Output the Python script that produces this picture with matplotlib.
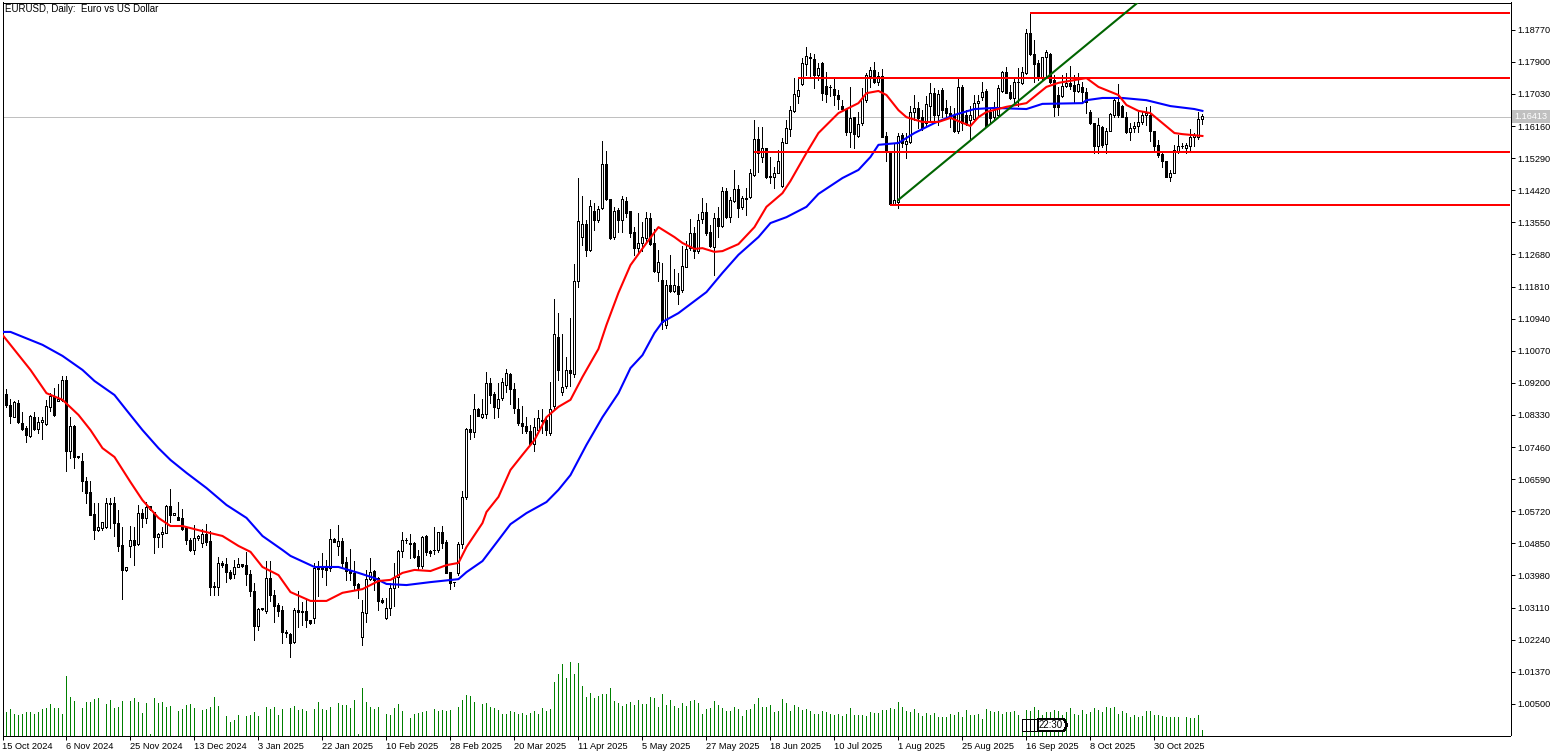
import numpy as np
import matplotlib
matplotlib.use("Agg")
import matplotlib.pyplot as plt
from matplotlib.patches import Rectangle, Polygon

plt.rcParams["font.family"] = ["Liberation Sans", "DejaVu Sans"]

# daily candles, B = down day, W = up day
candle_dir = (
    "BBBWBBBWBW" "WWWBWWBWBB" "BBBBWWWWBB" "BWWBWBWBBW" "WWBWBBBBWW" "WBBBWBBBWW"
    "BBBBWBWBBB" "BBBWBBBBWB" "BBWBWBBBBB" "WWWBBBWWWW" "WWWBBWBBWW" "BBBWWWWBWB"
    "WWBBWWWBBB" "BBBWWWBWWB" "WWBWWWBWBW" "WBBWBWBBBW" "WWBBWBWBWB" "WWWBWWBBWB"
    "WBWWBWWWWB" "WBBWWWWWWW" "WWBBWBBWBB" "BBWBWWWWBW" "BBBWWBWWWB" "BWWBWBBBBW"
    "BBWWWWBBWW" "WBBWWWWBBB" "WWBBBWWBBW" "BBBBWBWWWB" "BBWWWWWBBB" "BBWWWWWWWW" "W"
)

highs = [
    1.0905,1.0903,1.0875,1.0872,1.0874,1.0841,1.0803,1.0833,1.0841,1.0828,
    1.0828,1.0874,1.0892,1.0905,1.0917,1.0938,1.0938,1.0827,1.0806,1.0722,
    1.0729,1.0664,1.0655,1.0594,1.0594,1.0544,1.0607,1.0607,1.0610,1.0576,
    1.0530,1.0422,1.0532,1.0530,1.0589,1.0577,1.0596,1.0587,1.0571,1.0512,
    1.0529,1.0590,1.0632,1.0568,1.0596,1.0577,1.0531,1.0499,1.0535,1.0508,
    1.0523,1.0538,1.0519,1.0380,1.0449,1.0436,1.0445,1.0413,1.0440,1.0445,
    1.0428,1.0461,1.0413,1.0377,1.0309,1.0311,1.0438,1.0436,1.0359,1.0323,
    1.0314,1.0250,1.0241,1.0309,1.0356,1.0327,1.0332,1.0277,1.0431,1.0438,
    1.0458,1.0440,1.0524,1.0499,1.0535,1.0499,1.0449,1.0469,1.0438,1.0377,
    1.0332,1.0413,1.0445,1.0413,1.0395,1.0336,1.0336,1.0377,1.0431,1.0467,
    1.0515,1.0499,1.0510,1.0490,1.0467,1.0505,1.0507,1.0467,1.0529,1.0517,
    1.0532,1.0494,1.0408,1.0381,1.0490,1.0627,1.0797,1.0833,1.0890,1.0851,
    1.0875,1.0949,1.0932,1.0896,1.0919,1.0932,1.0958,1.0946,1.0919,1.0878,
    1.0858,1.0828,1.0806,1.0824,1.0846,1.0848,1.0824,1.0923,1.1147,1.1109,
    1.1052,1.0991,1.1095,1.1242,1.1474,1.1426,1.1361,1.1416,1.1407,1.1399,
    1.1575,1.1548,1.1418,1.1396,1.1393,1.1426,1.1423,1.1386,1.1343,1.1381,
    1.1357,1.1382,1.1379,1.1336,1.1280,1.1244,1.1199,1.1267,1.1229,1.1219,
    1.1291,1.1305,1.1363,1.1343,1.1377,1.1420,1.1407,1.1348,1.1379,1.1396,
    1.1452,1.1447,1.1423,1.1497,1.1456,1.1425,1.1447,1.1500,1.1632,1.1614,
    1.1614,1.1557,1.1533,1.1506,1.1551,1.1583,1.1631,1.1669,1.1745,1.1745,
    1.1799,1.1829,1.1813,1.1810,1.1786,1.1790,1.1763,1.1727,1.1750,1.1714,
    1.1687,1.1664,1.1721,1.1641,1.1655,1.1718,1.1759,1.1777,1.1789,1.1763,
    1.1770,1.1601,1.1547,1.1569,1.1598,1.1596,1.1596,1.1669,1.1700,1.1682,
    1.1660,1.1696,1.1732,1.1718,1.1714,1.1718,1.1687,1.1670,1.1664,1.1743,
    1.1727,1.1660,1.1669,1.1700,1.1700,1.1736,1.1715,1.1664,1.1682,1.1727,
    1.1766,1.1777,1.1727,1.1743,1.1772,1.1777,1.1878,1.1923,1.1849,1.1795,
    1.1804,1.1822,1.1815,1.1754,1.1723,1.1754,1.1759,1.1779,1.1754,1.1761,
    1.1736,1.1718,1.1660,1.1625,1.1637,1.1616,1.1610,1.1650,1.1691,1.1730,
    1.1673,1.1655,1.1623,1.1628,1.1655,1.1655,1.1667,1.1669,1.1603,1.1577,
    1.1544,1.1522,1.1497,1.1565,1.1592,1.1569,1.1569,1.1607,1.1598,1.1655,
    1.1649,
]

body_top = [
    1.0905,1.0890,1.0860,1.0867,1.0865,1.0810,1.0797,1.0830,1.0827,1.0813,
    1.0819,1.0857,1.0883,1.0883,1.0875,1.0928,1.0928,1.0803,1.0803,1.0722,
    1.0707,1.0655,1.0623,1.0565,1.0529,1.0542,1.0594,1.0594,1.0594,1.0540,
    1.0480,1.0420,1.0493,1.0493,1.0567,1.0567,1.0583,1.0585,1.0571,1.0510,
    1.0515,1.0586,1.0586,1.0568,1.0557,1.0553,1.0529,1.0494,1.0499,1.0506,
    1.0511,1.0511,1.0491,1.0370,1.0431,1.0431,1.0428,1.0407,1.0420,1.0428,
    1.0428,1.0427,1.0401,1.0355,1.0306,1.0310,1.0390,1.0390,1.0345,1.0318,
    1.0305,1.0246,1.0239,1.0305,1.0305,1.0302,1.0302,1.0277,1.0418,1.0420,
    1.0420,1.0420,1.0496,1.0496,1.0492,1.0492,1.0435,1.0413,1.0406,1.0375,
    1.0298,1.0388,1.0407,1.0409,1.0390,1.0332,1.0309,1.0363,1.0395,1.0463,
    1.0494,1.0494,1.0485,1.0487,1.0451,1.0503,1.0505,1.0463,1.0467,1.0517,
    1.0517,1.0488,1.0407,1.0380,1.0483,1.0610,1.0794,1.0795,1.0848,1.0848,
    1.0835,1.0919,1.0919,1.0890,1.0875,1.0923,1.0946,1.0944,1.0902,1.0848,
    1.0810,1.0803,1.0790,1.0801,1.0824,1.0818,1.0818,1.0848,1.1052,1.1043,
    1.0910,1.0955,1.0955,1.1197,1.1359,1.1350,1.1350,1.1399,1.1387,1.1391,
    1.1513,1.1513,1.1418,1.1386,1.1388,1.1417,1.1413,1.1386,1.1329,1.1298,
    1.1314,1.1368,1.1368,1.1298,1.1247,1.1199,1.1185,1.1185,1.1185,1.1183,
    1.1237,1.1283,1.1325,1.1325,1.1361,1.1382,1.1382,1.1328,1.1366,1.1366,
    1.1440,1.1440,1.1416,1.1444,1.1444,1.1420,1.1420,1.1488,1.1580,1.1580,
    1.1557,1.1557,1.1481,1.1490,1.1522,1.1574,1.1610,1.1660,1.1702,1.1714,
    1.1786,1.1806,1.1804,1.1797,1.1772,1.1786,1.1725,1.1723,1.1715,1.1700,
    1.1669,1.1661,1.1637,1.1640,1.1622,1.1691,1.1754,1.1768,1.1768,1.1752,
    1.1752,1.1589,1.1547,1.1416,1.1589,1.1592,1.1575,1.1655,1.1664,1.1664,
    1.1641,1.1675,1.1705,1.1705,1.1702,1.1714,1.1664,1.1650,1.1646,1.1721,
    1.1723,1.1646,1.1646,1.1679,1.1684,1.1709,1.1711,1.1655,1.1660,1.1718,
    1.1763,1.1763,1.1709,1.1734,1.1736,1.1762,1.1867,1.1867,1.1811,1.1788,
    1.1802,1.1816,1.1811,1.1741,1.1700,1.1725,1.1732,1.1732,1.1727,1.1729,
    1.1721,1.1709,1.1655,1.1623,1.1619,1.1614,1.1603,1.1649,1.1687,1.1682,
    1.1669,1.1641,1.1610,1.1616,1.1628,1.1646,1.1652,1.1646,1.1603,1.1565,
    1.1539,1.1520,1.1488,1.1551,1.1563,1.1563,1.1565,1.1585,1.1592,1.1634,
    1.1644,
]

body_bottom = [
    1.0890,1.0860,1.0830,1.0828,1.0815,1.0795,1.0779,1.0777,1.0795,1.0794,
    1.0813,1.0808,1.0854,1.0833,1.0872,1.0874,1.0736,1.0734,1.0718,1.0718,
    1.0655,1.0622,1.0562,1.0520,1.0521,1.0526,1.0529,1.0593,1.0540,1.0479,
    1.0413,1.0413,1.0479,1.0481,1.0483,1.0555,1.0555,1.0578,1.0501,1.0501,
    1.0510,1.0514,1.0563,1.0563,1.0549,1.0523,1.0493,1.0467,1.0467,1.0499,
    1.0485,1.0490,1.0366,1.0366,1.0368,1.0426,1.0407,1.0391,1.0401,1.0422,
    1.0423,1.0401,1.0357,1.0262,1.0262,1.0306,1.0303,1.0345,1.0316,1.0303,
    1.0246,1.0243,1.0216,1.0219,1.0298,1.0298,1.0276,1.0269,1.0282,1.0416,
    1.0415,1.0413,1.0418,1.0490,1.0479,1.0433,1.0410,1.0406,1.0372,1.0361,
    1.0232,1.0296,1.0388,1.0386,1.0330,1.0326,1.0284,1.0309,1.0363,1.0395,
    1.0463,1.0493,1.0484,1.0449,1.0424,1.0424,1.0461,1.0458,1.0466,1.0467,
    1.0487,1.0406,1.0377,1.0379,1.0404,1.0483,1.0610,1.0788,1.0788,1.0831,
    1.0828,1.0835,1.0887,1.0854,1.0851,1.0880,1.0914,1.0902,1.0851,1.0810,
    1.0803,1.0790,1.0754,1.0753,1.0792,1.0816,1.0792,1.0785,1.0856,1.0955,
    1.0894,1.0912,1.0946,1.0944,1.1197,1.1314,1.1280,1.1280,1.1361,1.1361,
    1.1395,1.1418,1.1312,1.1314,1.1360,1.1360,1.1381,1.1327,1.1286,1.1286,
    1.1298,1.1312,1.1296,1.1224,1.1221,1.1084,1.1076,1.1170,1.1169,1.1161,
    1.1172,1.1235,1.1285,1.1278,1.1276,1.1364,1.1325,1.1291,1.1289,1.1345,
    1.1345,1.1369,1.1369,1.1413,1.1393,1.1396,1.1419,1.1423,1.1483,1.1544,
    1.1531,1.1479,1.1477,1.1477,1.1490,1.1454,1.1571,1.1607,1.1657,1.1696,
    1.1729,1.1783,1.1800,1.1754,1.1754,1.1706,1.1703,1.1722,1.1700,1.1688,
    1.1661,1.1599,1.1599,1.1594,1.1589,1.1623,1.1687,1.1752,1.1736,1.1736,
    1.1587,1.1547,1.1404,1.1404,1.1411,1.1569,1.1567,1.1574,1.1655,1.1637,
    1.1610,1.1623,1.1670,1.1646,1.1646,1.1660,1.1650,1.1641,1.1603,1.1603,
    1.1623,1.1623,1.1632,1.1634,1.1678,1.1694,1.1616,1.1637,1.1640,1.1646,
    1.1712,1.1706,1.1691,1.1691,1.1735,1.1732,1.1759,1.1811,1.1784,1.1745,
    1.1745,1.1802,1.1736,1.1667,1.1667,1.1696,1.1725,1.1725,1.1712,1.1712,
    1.1709,1.1682,1.1625,1.1563,1.1563,1.1565,1.1567,1.1603,1.1646,1.1646,
    1.1641,1.1599,1.1599,1.1610,1.1616,1.1628,1.1646,1.1603,1.1563,1.1538,
    1.1520,1.1479,1.1479,1.1490,1.1549,1.1562,1.1556,1.1563,1.1585,1.1585,
    1.1634,
]

lows = [
    1.0887,1.0854,1.0812,1.0827,1.0812,1.0792,1.0761,1.0772,1.0792,1.0783,
    1.0769,1.0806,1.0845,1.0831,1.0872,1.0872,1.0682,1.0716,1.0688,1.0717,
    1.0628,1.0595,1.0561,1.0498,1.0518,1.0521,1.0526,1.0526,1.0506,1.0463,
    1.0335,1.0411,1.0449,1.0425,1.0481,1.0528,1.0540,1.0576,1.0460,1.0476,
    1.0474,1.0512,1.0544,1.0562,1.0547,1.0521,1.0484,1.0465,1.0455,1.0494,
    1.0476,1.0481,1.0344,1.0344,1.0344,1.0422,1.0381,1.0388,1.0391,1.0420,
    1.0422,1.0372,1.0341,1.0223,1.0250,1.0305,1.0296,1.0330,1.0273,1.0287,
    1.0214,1.0232,1.0178,1.0214,1.0259,1.0264,1.0259,1.0267,1.0269,1.0343,
    1.0395,1.0372,1.0411,1.0488,1.0454,1.0422,1.0386,1.0386,1.0359,1.0336,
    1.0210,1.0273,1.0386,1.0359,1.0305,1.0323,1.0279,1.0291,1.0314,1.0366,
    1.0449,1.0487,1.0445,1.0445,1.0413,1.0418,1.0454,1.0451,1.0456,1.0461,
    1.0472,1.0404,1.0361,1.0370,1.0399,1.0472,1.0605,1.0767,1.0774,1.0830,
    1.0824,1.0824,1.0865,1.0824,1.0828,1.0874,1.0896,1.0862,1.0837,1.0806,
    1.0783,1.0783,1.0752,1.0734,1.0783,1.0783,1.0779,1.0779,1.0847,1.0928,
    1.0887,1.0907,1.0912,1.0937,1.1181,1.1294,1.1264,1.1277,1.1334,1.1357,
    1.1391,1.1416,1.1309,1.1309,1.1330,1.1330,1.1370,1.1316,1.1267,1.1271,
    1.1276,1.1303,1.1294,1.1221,1.1197,1.1065,1.1068,1.1167,1.1167,1.1133,
    1.1167,1.1233,1.1280,1.1258,1.1273,1.1352,1.1321,1.1289,1.1211,1.1316,
    1.1343,1.1366,1.1357,1.1411,1.1370,1.1390,1.1375,1.1420,1.1481,1.1492,
    1.1519,1.1474,1.1461,1.1447,1.1488,1.1452,1.1569,1.1589,1.1655,1.1678,
    1.1727,1.1754,1.1750,1.1718,1.1741,1.1687,1.1682,1.1696,1.1673,1.1661,
    1.1660,1.1592,1.1560,1.1557,1.1587,1.1619,1.1682,1.1723,1.1732,1.1727,
    1.1586,1.1520,1.1402,1.1402,1.1393,1.1560,1.1529,1.1569,1.1632,1.1610,
    1.1605,1.1614,1.1628,1.1623,1.1619,1.1641,1.1641,1.1614,1.1601,1.1596,
    1.1604,1.1619,1.1581,1.1631,1.1646,1.1687,1.1613,1.1623,1.1634,1.1644,
    1.1709,1.1705,1.1688,1.1682,1.1669,1.1731,1.1757,1.1809,1.1736,1.1741,
    1.1743,1.1745,1.1732,1.1644,1.1646,1.1695,1.1723,1.1715,1.1682,1.1709,
    1.1678,1.1650,1.1622,1.1542,1.1542,1.1560,1.1542,1.1603,1.1641,1.1641,
    1.1640,1.1596,1.1577,1.1601,1.1601,1.1622,1.1619,1.1575,1.1551,1.1533,
    1.1506,1.1477,1.1468,1.1488,1.1544,1.1556,1.1542,1.1549,1.1562,1.1580,
    1.1622,
]

# tick volume in thousands
volumes = [
    0,47,53,43,41,43,47,47,43,47, 53,55,63,55,55,43,119,77,69,0,
    55,67,67,73,75,0,63,71,55,57, 69,0,69,75,67,45,65,3,75,65,
    67,57,59,0,49,53,61,63,55,0, 51,53,57,77,59,0,39,27,31,41,
    0,39,41,47,39,0,57,53,57,41, 53,0,55,59,51,53,49,0,53,67,
    53,51,57,0,65,61,61,55,71,3, 95,67,57,53,57,0,43,41,55,63,
    49,0,35,43,45,47,49,0,53,49, 51,49,51,0,57,71,81,79,67,0,
    63,65,57,55,51,43,43,49,47,43, 45,41,45,49,43,55,49,53,107,123,
    143,115,147,123,145,99,77,85,75,79, 83,83,95,69,65,59,63,67,61,71,
    63,63,77,75,57,83,61,71,59,55, 65,59,69,71,65,43,53,55,69,61,
    55,49,49,57,53,39,51,53,63,75, 57,57,61,47,49,73,65,49,61,57,
    51,53,49,43,43,49,47,43,41,43, 39,43,55,41,41,41,39,47,45,45,
    51,51,55,53,67,57,49,47,53,45, 39,45,41,45,37,37,37,43,41,47,
    37,51,41,41,43,33,53,49,47,49, 43,47,47,49,41,33,51,49,57,51,
    41,47,47,51,49,41,47,55,43,41, 51,43,47,55,51,47,57,55,57,43,
    49,45,37,41,37,39,49,49,41,41, 39,37,37,37,37,0,37,35,35,41,
    11,
]

red_bars = [0,7,11,15,19,22,25,28,32,35,39,42,45,50,55,59,62,65,69,72,77,81,85,90,94,97,100,103,107,
            111,114,116,120,121,124,127,130,133,136,139,142,145,149,151,154,157,161,164,168,170,173,
            175,178,180,184,188,191,195,197,201,204,209,214,216,219,221,224,226,230,234,237,242,244,
            246,251,256,261,264,271,274,279,281,284,287,290,293,295,300]
red_ma = [1.1050,1.0955,1.0892,1.0874,1.0833,1.0792,1.0743,1.0719,1.0651,1.0602,1.0554,1.0532,1.0532,
          1.0518,1.0505,1.0478,1.0462,1.0421,1.0399,1.0353,1.0329,1.0329,1.0351,1.0361,1.0383,1.0386,
          1.0405,1.0413,1.0410,1.0426,1.0432,1.0475,1.0540,1.0570,1.0611,1.0684,1.0725,1.0765,1.0827,
          1.0855,1.0874,1.0936,1.1012,1.1077,1.1164,1.1239,1.1299,1.1342,1.1315,1.1299,1.1283,1.1285,
          1.1275,1.1277,1.1296,1.1342,1.1397,1.1434,1.1467,1.1543,1.1597,1.1651,1.1678,1.1705,1.1711,
          1.1700,1.1659,1.1640,1.1627,1.1627,1.1638,1.1616,1.1640,1.1654,1.1668,1.1678,1.1722,1.1733,
          1.1746,1.1722,1.1700,1.1673,1.1657,1.1651,1.1624,1.1597,1.1594,1.1589]

blue_bars = [0,2,10,15,20,23,28,31,35,39,42,46,51,56,61,65,70,72,78,84,89,93,96,101,107,114,116,120,
             124,127,131,136,139,142,144,146,150,154,157,160,163,165,169,176,180,184,189,192,196,201,204,210,214,
             217,219,224,228,233,238,243,248,256,260,270,271,275,280,286,292,298,300]
blue_ma = [1.1058,1.1058,1.1023,1.0993,1.0955,1.0925,1.0887,1.0846,1.0792,1.0743,1.0711,1.0676,1.0635,
           1.0589,1.0554,1.0505,1.0467,1.0451,1.0421,1.0421,1.0405,1.0391,1.0375,1.0372,1.0380,1.0388,
           1.0407,1.0437,1.0494,1.0537,1.0567,1.0597,1.0630,1.0670,1.0711,1.0752,1.0827,1.0892,1.0960,
           1.0995,1.1055,1.1085,
           1.1109,1.1166,1.1218,1.1267,1.1315,1.1353,1.1369,1.1397,1.1432,1.1475,1.1497,1.1532,1.1565,
           1.1570,1.1597,1.1624,1.1646,1.1662,1.1665,1.1662,1.1676,1.1678,1.1686,1.1692,1.1692,1.1686,
           1.1670,1.1662,1.1657]

# horizontal levels: starting bar, price
level_bars = [257, 199, 188, 222]
level_prices = [1.1922, 1.1746, 1.1546, 1.1402]
trend_bars = [224, 284]
trend_prices = [1.1416, 1.1952]
last_price = 1.16413

price_ticks = [1.18770,1.17900,1.17030,1.16160,1.15290,1.14420,1.13550,1.12680,1.11810,1.10940,1.10070,
               1.09200,1.08330,1.07460,1.06590,1.05720,1.04850,1.03980,1.03110,1.02240,1.01370,1.00500]
date_labels = ["15 Oct 2024","6 Nov 2024","25 Nov 2024","13 Dec 2024","3 Jan 2025","22 Jan 2025",
               "10 Feb 2025","28 Feb 2025","20 Mar 2025","11 Apr 2025","5 May 2025","27 May 2025",
               "18 Jun 2025","10 Jul 2025","1 Aug 2025","25 Aug 2025","16 Sep 2025","8 Oct 2025","30 Oct 2025"]

W, H = 1563, 756
lw1 = 0.72

fig = plt.figure(figsize=(W / 100, H / 100), dpi=100, facecolor="white")
left, right, top, bottom = 2.5, 1510.5, 2.5, 735.5
pos = [left / W, (H - bottom) / H, (right - left) / W, (bottom - top) / H]

# volume sits on its own hidden axes, same frame
ax_vol = fig.add_axes(pos, frameon=False)
ax = fig.add_axes(pos, facecolor="none")

x = np.arange(len(highs))
xlim = (0.0, (right - 2.4) / 4)
ax.set_xlim(*xlim)
ax.set_ylim(1.19575 - 0.000271 * bottom, 1.19575 - 0.000271 * top)

ax_vol.set_xlim(*xlim)
ax_vol.set_ylim(0, (bottom - top) * 2)
ax_vol.set_xticks([])
ax_vol.set_yticks([])
ax_vol.vlines(x, 0, volumes, color="#008000", lw=lw1, antialiased=False)

# last price line
ax.axhline(last_price, color="#C0C0C0", lw=lw1, antialiased=False, zorder=1)

# candles
ax.vlines(x, lows, highs, color="black", lw=lw1, antialiased=False, zorder=3)
up = np.array([c == "W" for c in candle_dir])
tops = np.array(body_top)
bots = np.array(body_bottom)
ax.bar(x, tops - bots, bottom=bots, width=0.5, color=np.where(up, "white", "black"),
       edgecolor="black", linewidth=lw1, antialiased=False, zorder=4)

# moving averages
ax.plot(blue_bars, blue_ma, color="#0000FF", lw=1.5, zorder=5)
ax.plot(red_bars, red_ma, color="#FF0000", lw=1.5, zorder=6)

# drawn levels
for b, p in zip(level_bars, level_prices):
    ax.plot([b, xlim[1]], [p, p], color="#FF0000", lw=1.1, antialiased=False,
            solid_capstyle="butt", zorder=7)
ax.plot(trend_bars, trend_prices, color="#006400", lw=1.5, zorder=7)

# axes
ax.yaxis.tick_right()
ax.set_yticks(price_ticks)
ax.set_yticklabels([f"{v:.5f}" for v in price_ticks])
ax.set_xticks(np.arange(len(date_labels)) * 16)
ax.set_xticklabels(date_labels, ha="left")
ax.tick_params(axis="y", length=3, width=lw1, labelsize=6.6, pad=1.8, color="black")
ax.tick_params(axis="x", length=3, width=lw1, labelsize=6.7, pad=1.8, color="black")
for s in ax.spines.values():
    s.set_linewidth(lw1)

# price tag on the scale
ax.annotate(f"{last_price:.5f}", xy=(1.0, last_price), xycoords=("axes fraction", "data"),
            xytext=(3.0, 0), textcoords="offset points", va="center", ha="left",
            color="white", fontsize=6.6, zorder=10,
            bbox=dict(boxstyle="square,pad=0.25", fc="#C0C0C0", ec="none"),
            annotation_clip=False)

fig.text(5 / W, 1 - 9.5 / H, "EURUSD, Daily:  Euro vs US Dollar", fontsize=7.0, va="center", ha="left")

# countdown box at the bottom
to_frac = lambda px, py: (px / W, 1 - py / H)
for bx in (1022, 1026, 1030, 1034):
    fig.add_artist(Rectangle(to_frac(bx, 731), 4 / W, 12 / H, fc="white", ec="black",
                             lw=lw1, ls=(0, (1, 1)), antialiased=False, zorder=8))
fig.add_artist(Polygon([to_frac(*p) for p in [(1038, 719), (1064, 719), (1067, 725), (1064, 731), (1038, 731)]],
                       closed=True, fc="white", ec="black", lw=lw1, antialiased=False, zorder=8))
fig.text(1051 / W, 1 - 725.5 / H, "22:30", fontsize=7.0, va="center", ha="center", zorder=9)

print(len(highs), len(body_top), len(body_bottom), len(lows), len(volumes), len(candle_dir),
      len(red_bars), len(red_ma), len(blue_bars), len(blue_ma))

fig.savefig("out.png", dpi=100, facecolor="white")
